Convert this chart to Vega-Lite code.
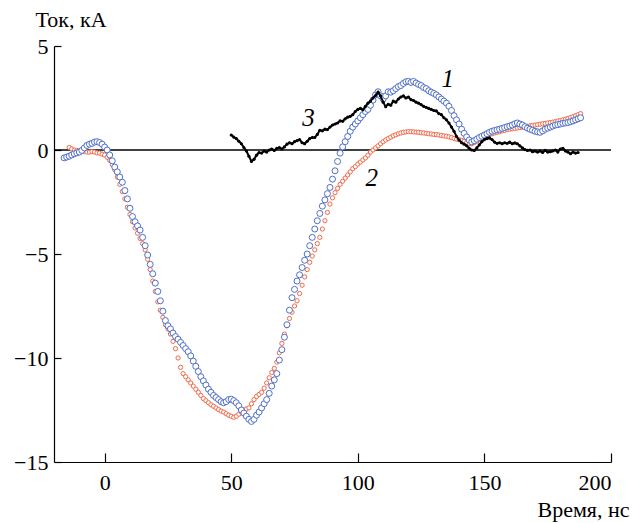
{
  "$schema": "https://vega.github.io/schema/vega-lite/v6.json",
  "width": 557,
  "height": 416,
  "autosize": {"type": "none"},
  "padding": {"left": 54, "top": 46, "right": 22, "bottom": 61},
  "background": "white",
  "config": {
    "view": {"stroke": null},
    "font": "Liberation Serif, DejaVu Serif, serif",
    "axis": {
      "grid": false,
      "domainColor": "black",
      "domainWidth": 1.2,
      "tickColor": "black",
      "tickWidth": 1.2,
      "labelFont": "Liberation Serif, DejaVu Serif, serif",
      "labelFontSize": 22,
      "labelColor": "black",
      "titleFont": "Liberation Serif, DejaVu Serif, serif",
      "titleFontSize": 22,
      "titleFontWeight": "normal",
      "titleColor": "black"
    }
  },
  "datasets": {
    "zero": [{"t": -20, "v": 0}, {"t": 200, "v": 0}],
    "blue": [
      {"t":-16,"v":-0.38},{"t":-15,"v":-0.34},{"t":-14,"v":-0.3},{"t":-13,"v":-0.24},{"t":-12,"v":-0.18},{"t":-11,"v":-0.14},{"t":-10,"v":-0.1},{"t":-9,"v":-0.02},{"t":-8,"v":0.1},{"t":-7,"v":0.22},{"t":-6,"v":0.28},{"t":-5,"v":0.32},{"t":-4,"v":0.38},{"t":-3,"v":0.4},{"t":-2,"v":0.36},{"t":-1,"v":0.28},
      {"t":0,"v":0.14},{"t":1,"v":0.0},{"t":2,"v":-0.24},{"t":3,"v":-0.52},{"t":4,"v":-0.82},{"t":5,"v":-1.05},{"t":6,"v":-1.3},{"t":7,"v":-1.55},{"t":8,"v":-1.95},{"t":9,"v":-2.35},
      {"t":10,"v":-2.8},{"t":11,"v":-3.2},{"t":12,"v":-3.45},{"t":13,"v":-3.65},{"t":14,"v":-3.85},{"t":15,"v":-4.2},{"t":16,"v":-4.6},{"t":17,"v":-5.05},{"t":18,"v":-5.5},{"t":19,"v":-5.95},
      {"t":20,"v":-6.4},{"t":21,"v":-6.8},{"t":22,"v":-7.25},{"t":23,"v":-7.75},{"t":24,"v":-8.2},{"t":25,"v":-8.45},{"t":26,"v":-8.6},{"t":27,"v":-8.8},{"t":28,"v":-8.97},{"t":29,"v":-9.1},
      {"t":30,"v":-9.25},{"t":31,"v":-9.4},{"t":32,"v":-9.55},{"t":33,"v":-9.7},{"t":34,"v":-9.9},{"t":35,"v":-10.15},{"t":36,"v":-10.4},{"t":37,"v":-10.65},{"t":38,"v":-10.9},{"t":39,"v":-11.1},
      {"t":40,"v":-11.3},{"t":41,"v":-11.5},{"t":42,"v":-11.65},{"t":43,"v":-11.8},{"t":44,"v":-11.9},{"t":45,"v":-12.0},{"t":46,"v":-12.1},{"t":47,"v":-12.15},{"t":48,"v":-12.1},{"t":49,"v":-12.0},
      {"t":50,"v":-11.98},{"t":51,"v":-12.05},{"t":52,"v":-12.15},{"t":53,"v":-12.3},{"t":54,"v":-12.5},{"t":55,"v":-12.65},{"t":56,"v":-12.8},{"t":57,"v":-12.95},{"t":58,"v":-13.05},{"t":59,"v":-12.95},
      {"t":60,"v":-12.75},{"t":61,"v":-12.6},{"t":62,"v":-12.4},{"t":63,"v":-12.2},{"t":64,"v":-12.0},{"t":65,"v":-11.7},{"t":66,"v":-11.35},{"t":67,"v":-11.05},{"t":68,"v":-10.75},{"t":69,"v":-10.1},
      {"t":70,"v":-9.6},{"t":71,"v":-9.0},{"t":72,"v":-8.4},{"t":73,"v":-7.7},{"t":74,"v":-7.1},{"t":75,"v":-6.7},{"t":76,"v":-6.3},{"t":77,"v":-6.0},{"t":78,"v":-5.65},{"t":79,"v":-5.3},
      {"t":80,"v":-5.0},{"t":81,"v":-4.6},{"t":82,"v":-4.2},{"t":83,"v":-3.8},{"t":84,"v":-3.4},{"t":85,"v":-3.05},{"t":86,"v":-2.7},{"t":87,"v":-2.4},{"t":88,"v":-2.1},{"t":89,"v":-1.8},
      {"t":90,"v":-1.4},{"t":91,"v":-1.0},{"t":92,"v":-0.55},{"t":93,"v":-0.15},{"t":94,"v":0.15},{"t":95,"v":0.4},{"t":96,"v":0.65},{"t":97,"v":0.9},{"t":98,"v":1.1},{"t":99,"v":1.25},
      {"t":100,"v":1.4},{"t":101,"v":1.55},{"t":102,"v":1.7},{"t":103,"v":1.85},{"t":104,"v":1.95},{"t":105,"v":2.15},{"t":106,"v":2.4},{"t":107,"v":2.65},{"t":108,"v":2.8},{"t":109,"v":2.6},
      {"t":110,"v":2.45},{"t":111,"v":2.6},{"t":112,"v":2.8},{"t":113,"v":2.78},{"t":114,"v":2.85},{"t":115,"v":2.95},{"t":116,"v":3.05},{"t":117,"v":3.1},{"t":118,"v":3.2},{"t":119,"v":3.28},
      {"t":120,"v":3.3},{"t":121,"v":3.25},{"t":122,"v":3.3},{"t":123,"v":3.22},{"t":124,"v":3.15},{"t":125,"v":3.1},{"t":126,"v":3.0},{"t":127,"v":2.95},{"t":128,"v":2.85},{"t":129,"v":2.78},
      {"t":130,"v":2.72},{"t":131,"v":2.65},{"t":132,"v":2.55},{"t":133,"v":2.45},{"t":134,"v":2.35},{"t":135,"v":2.25},{"t":136,"v":2.1},{"t":137,"v":1.9},{"t":138,"v":1.65},{"t":139,"v":1.45},
      {"t":140,"v":1.25},{"t":141,"v":1.0},{"t":142,"v":0.8},{"t":143,"v":0.63},{"t":144,"v":0.48},{"t":145,"v":0.39},{"t":146,"v":0.45},{"t":147,"v":0.52},{"t":148,"v":0.6},{"t":149,"v":0.66},
      {"t":150,"v":0.72},{"t":151,"v":0.78},{"t":152,"v":0.85},{"t":153,"v":0.9},{"t":154,"v":0.94},{"t":155,"v":0.97},{"t":156,"v":1.0},{"t":157,"v":1.04},{"t":158,"v":1.08},{"t":159,"v":1.12},
      {"t":160,"v":1.15},{"t":161,"v":1.2},{"t":162,"v":1.26},{"t":163,"v":1.3},{"t":164,"v":1.25},{"t":165,"v":1.2},{"t":166,"v":1.12},{"t":167,"v":1.05},{"t":168,"v":1.0},{"t":169,"v":0.95},
      {"t":170,"v":0.9},{"t":171,"v":0.87},{"t":172,"v":0.85},{"t":173,"v":0.92},{"t":174,"v":1.0},{"t":175,"v":1.05},{"t":176,"v":1.1},{"t":177,"v":1.15},{"t":178,"v":1.2},{"t":179,"v":1.22},
      {"t":180,"v":1.25},{"t":181,"v":1.28},{"t":182,"v":1.3},{"t":183,"v":1.32},{"t":184,"v":1.36},{"t":185,"v":1.4},{"t":186,"v":1.45},{"t":187,"v":1.5},{"t":188,"v":1.55}
    ],
    "orange": [
      {"t":-14,"v":0.12},{"t":-13,"v":0.05},{"t":-12,"v":0.0},{"t":-11,"v":-0.02},{"t":-10,"v":-0.05},{"t":-9,"v":-0.06},{"t":-8,"v":-0.08},{"t":-7,"v":-0.1},{"t":-6,"v":-0.1},{"t":-5,"v":-0.08},{"t":-4,"v":-0.1},{"t":-3,"v":-0.14},{"t":-2,"v":-0.15},{"t":-1,"v":-0.2},
      {"t":0,"v":-0.24},{"t":1,"v":-0.35},{"t":2,"v":-0.5},{"t":3,"v":-0.7},{"t":4,"v":-0.95},{"t":5,"v":-1.3},{"t":6,"v":-1.65},{"t":7,"v":-2.0},{"t":8,"v":-2.35},{"t":9,"v":-2.75},
      {"t":10,"v":-3.1},{"t":11,"v":-3.45},{"t":12,"v":-3.75},{"t":13,"v":-4.0},{"t":14,"v":-4.25},{"t":15,"v":-4.5},{"t":16,"v":-4.8},{"t":17,"v":-5.25},{"t":18,"v":-5.75},{"t":19,"v":-6.3},
      {"t":20,"v":-6.8},{"t":21,"v":-7.3},{"t":22,"v":-7.7},{"t":23,"v":-8.05},{"t":24,"v":-8.4},{"t":25,"v":-8.6},{"t":26,"v":-8.85},{"t":27,"v":-9.2},{"t":28,"v":-9.55},{"t":29,"v":-10.0},
      {"t":30,"v":-10.45},{"t":31,"v":-10.75},{"t":32,"v":-10.9},{"t":33,"v":-11.05},{"t":34,"v":-11.2},{"t":35,"v":-11.35},{"t":36,"v":-11.5},{"t":37,"v":-11.65},{"t":38,"v":-11.8},{"t":39,"v":-11.95},
      {"t":40,"v":-12.05},{"t":41,"v":-12.15},{"t":42,"v":-12.25},{"t":43,"v":-12.32},{"t":44,"v":-12.4},{"t":45,"v":-12.48},{"t":46,"v":-12.55},{"t":47,"v":-12.6},{"t":48,"v":-12.68},{"t":49,"v":-12.75},
      {"t":50,"v":-12.8},{"t":51,"v":-12.85},{"t":52,"v":-12.8},{"t":53,"v":-12.7},{"t":54,"v":-12.6},{"t":55,"v":-12.5},{"t":56,"v":-12.45},{"t":57,"v":-12.4},{"t":58,"v":-12.2},{"t":59,"v":-12.0},
      {"t":60,"v":-11.85},{"t":61,"v":-11.75},{"t":62,"v":-11.65},{"t":63,"v":-11.45},{"t":64,"v":-11.2},{"t":65,"v":-10.95},{"t":66,"v":-10.7},{"t":67,"v":-10.5},{"t":68,"v":-10.2},{"t":69,"v":-9.75},
      {"t":70,"v":-9.3},{"t":71,"v":-8.85},{"t":72,"v":-8.45},{"t":73,"v":-8.1},{"t":74,"v":-7.8},{"t":75,"v":-7.5},{"t":76,"v":-7.25},{"t":77,"v":-6.9},{"t":78,"v":-6.5},{"t":79,"v":-6.1},
      {"t":80,"v":-5.75},{"t":81,"v":-5.4},{"t":82,"v":-5.1},{"t":83,"v":-4.8},{"t":84,"v":-4.5},{"t":85,"v":-4.2},{"t":86,"v":-3.8},{"t":87,"v":-3.4},{"t":88,"v":-3.0},{"t":89,"v":-2.6},
      {"t":90,"v":-2.3},{"t":91,"v":-2.05},{"t":92,"v":-1.85},{"t":93,"v":-1.65},{"t":94,"v":-1.5},{"t":95,"v":-1.35},{"t":96,"v":-1.2},{"t":97,"v":-1.05},{"t":98,"v":-0.9},{"t":99,"v":-0.8},
      {"t":100,"v":-0.68},{"t":101,"v":-0.58},{"t":102,"v":-0.48},{"t":103,"v":-0.38},{"t":104,"v":-0.25},{"t":105,"v":-0.1},{"t":106,"v":0.0},{"t":107,"v":0.1},{"t":108,"v":0.2},{"t":109,"v":0.3},
      {"t":110,"v":0.4},{"t":111,"v":0.48},{"t":112,"v":0.55},{"t":113,"v":0.62},{"t":114,"v":0.68},{"t":115,"v":0.73},{"t":116,"v":0.78},{"t":117,"v":0.82},{"t":118,"v":0.85},{"t":119,"v":0.87},
      {"t":120,"v":0.88},{"t":121,"v":0.88},{"t":122,"v":0.87},{"t":123,"v":0.86},{"t":124,"v":0.85},{"t":125,"v":0.83},{"t":126,"v":0.82},{"t":127,"v":0.8},{"t":128,"v":0.78},{"t":129,"v":0.77},
      {"t":130,"v":0.75},{"t":131,"v":0.74},{"t":132,"v":0.72},{"t":133,"v":0.7},{"t":134,"v":0.68},{"t":135,"v":0.66},{"t":136,"v":0.63},{"t":137,"v":0.6},{"t":138,"v":0.56},{"t":139,"v":0.52},
      {"t":140,"v":0.5},{"t":141,"v":0.46},{"t":142,"v":0.42},{"t":143,"v":0.36},{"t":144,"v":0.3},{"t":145,"v":0.3},{"t":146,"v":0.36},{"t":147,"v":0.42},{"t":148,"v":0.5},{"t":149,"v":0.58},
      {"t":150,"v":0.65},{"t":151,"v":0.7},{"t":152,"v":0.74},{"t":153,"v":0.78},{"t":154,"v":0.82},{"t":155,"v":0.85},{"t":156,"v":0.88},{"t":157,"v":0.92},{"t":158,"v":0.95},{"t":159,"v":0.98},
      {"t":160,"v":1.0},{"t":161,"v":1.02},{"t":162,"v":1.04},{"t":163,"v":1.06},{"t":164,"v":1.08},{"t":165,"v":1.1},{"t":166,"v":1.12},{"t":167,"v":1.14},{"t":168,"v":1.16},{"t":169,"v":1.18},
      {"t":170,"v":1.2},{"t":171,"v":1.22},{"t":172,"v":1.24},{"t":173,"v":1.26},{"t":174,"v":1.28},{"t":175,"v":1.3},{"t":176,"v":1.32},{"t":177,"v":1.34},{"t":178,"v":1.36},{"t":179,"v":1.39},
      {"t":180,"v":1.42},{"t":181,"v":1.45},{"t":182,"v":1.48},{"t":183,"v":1.52},{"t":184,"v":1.56},{"t":185,"v":1.6},{"t":186,"v":1.65},{"t":187,"v":1.7},{"t":188,"v":1.75}
    ],
    "black": [
      {"t":50,"v":0.72},{"t":51,"v":0.62},{"t":52,"v":0.55},{"t":53,"v":0.42},{"t":54,"v":0.3},{"t":55,"v":0.12},{"t":56,"v":-0.05},{"t":57,"v":-0.3},{"t":58,"v":-0.55},{"t":59,"v":-0.45},
      {"t":60,"v":-0.25},{"t":61,"v":-0.12},{"t":62,"v":-0.15},{"t":63,"v":-0.05},{"t":64,"v":-0.1},{"t":65,"v":0.0},{"t":66,"v":0.05},{"t":67,"v":-0.02},{"t":68,"v":0.08},{"t":69,"v":0.12},
      {"t":70,"v":0.05},{"t":71,"v":0.15},{"t":72,"v":0.28},{"t":73,"v":0.35},{"t":74,"v":0.3},{"t":75,"v":0.4},{"t":76,"v":0.45},{"t":77,"v":0.5},{"t":78,"v":0.35},{"t":79,"v":0.3},
      {"t":80,"v":0.42},{"t":81,"v":0.55},{"t":82,"v":0.6},{"t":83,"v":0.6},{"t":84,"v":0.75},{"t":85,"v":0.95},{"t":86,"v":0.92},{"t":87,"v":1.0},{"t":88,"v":0.98},{"t":89,"v":1.1},
      {"t":90,"v":1.2},{"t":91,"v":1.25},{"t":92,"v":1.3},{"t":93,"v":1.4},{"t":94,"v":1.38},{"t":95,"v":1.5},{"t":96,"v":1.58},{"t":97,"v":1.62},{"t":98,"v":1.7},{"t":99,"v":1.85},
      {"t":100,"v":1.95},{"t":101,"v":2.0},{"t":102,"v":1.93},{"t":103,"v":2.1},{"t":104,"v":2.25},{"t":105,"v":2.35},{"t":106,"v":2.5},{"t":107,"v":2.62},{"t":108,"v":2.78},{"t":109,"v":2.6},
      {"t":110,"v":2.3},{"t":111,"v":2.08},{"t":112,"v":2.2},{"t":113,"v":2.15},{"t":114,"v":2.35},{"t":115,"v":2.3},{"t":116,"v":2.45},{"t":117,"v":2.55},{"t":118,"v":2.6},{"t":119,"v":2.5},
      {"t":120,"v":2.55},{"t":121,"v":2.42},{"t":122,"v":2.38},{"t":123,"v":2.3},{"t":124,"v":2.25},{"t":125,"v":2.18},{"t":126,"v":2.1},{"t":127,"v":2.05},{"t":128,"v":2.0},{"t":129,"v":1.95},
      {"t":130,"v":1.9},{"t":131,"v":1.88},{"t":132,"v":1.75},{"t":133,"v":1.7},{"t":134,"v":1.55},{"t":135,"v":1.45},{"t":136,"v":1.3},{"t":137,"v":1.1},{"t":138,"v":0.9},{"t":139,"v":0.65},
      {"t":140,"v":0.48},{"t":141,"v":0.35},{"t":142,"v":0.28},{"t":143,"v":0.2},{"t":144,"v":0.08},{"t":145,"v":0.0},{"t":146,"v":-0.02},{"t":147,"v":0.1},{"t":148,"v":0.25},{"t":149,"v":0.4},
      {"t":150,"v":0.5},{"t":151,"v":0.55},{"t":152,"v":0.58},{"t":153,"v":0.5},{"t":154,"v":0.38},{"t":155,"v":0.32},{"t":156,"v":0.35},{"t":157,"v":0.3},{"t":158,"v":0.35},{"t":159,"v":0.32},
      {"t":160,"v":0.38},{"t":161,"v":0.3},{"t":162,"v":0.34},{"t":163,"v":0.3},{"t":164,"v":0.2},{"t":165,"v":0.1},{"t":166,"v":0.02},{"t":167,"v":-0.02},{"t":168,"v":0.0},{"t":169,"v":-0.08},
      {"t":170,"v":-0.05},{"t":171,"v":-0.1},{"t":172,"v":-0.05},{"t":173,"v":-0.12},{"t":174,"v":-0.02},{"t":175,"v":-0.1},{"t":176,"v":-0.08},{"t":177,"v":-0.05},{"t":178,"v":0.0},{"t":179,"v":-0.1},
      {"t":180,"v":0.05},{"t":181,"v":0.08},{"t":182,"v":-0.05},{"t":183,"v":-0.1},{"t":184,"v":-0.18},{"t":185,"v":-0.1},{"t":186,"v":-0.15},{"t":187,"v":-0.12}
    ],
    "labels": [
      {"t":135.5,"v":3.4,"label":"1"},
      {"t":105.5,"v":-1.35,"label":"2"},
      {"t":80.5,"v":1.55,"label":"3"}
    ]
  },
  "encoding": {
    "x": {
      "field": "t",
      "type": "quantitative",
      "scale": {"domain": [-20, 200], "nice": false, "zero": false},
      "axis": {
        "values": [0, 50, 100, 150, 200],
        "tickSize": -9,
        "labelPadding": 19,
        "title": "Время, нс",
        "titleAnchor": "end",
        "titleAlign": "right",
        "titleBaseline": "alphabetic",
        "titleX": 575,
        "titleY": 54
      }
    },
    "y": {
      "field": "v",
      "type": "quantitative",
      "scale": {"domain": [-15, 5], "nice": false, "zero": false},
      "axis": {
        "values": [-15, -10, -5, 0, 5],
        "tickSize": -7,
        "labelPadding": 13,
        "title": "Ток, кА",
        "titleAngle": 0,
        "titleAlign": "left",
        "titleBaseline": "alphabetic",
        "titleX": -19,
        "titleY": -20
      }
    }
  },
  "layer": [
    {
      "data": {"name": "zero"},
      "mark": {"type": "line", "color": "black", "strokeWidth": 1.5}
    },
    {
      "data": {"name": "orange"},
      "mark": {"type": "point", "shape": "circle", "fill": "white", "stroke": "#f06a4a", "strokeWidth": 1, "size": 18, "opacity": 1}
    },
    {
      "data": {"name": "blue"},
      "mark": {"type": "point", "shape": "circle", "fill": "white", "stroke": "#4f6fc8", "strokeWidth": 1, "size": 36, "opacity": 1}
    },
    {
      "data": {"name": "black"},
      "mark": {"type": "line", "color": "black", "strokeWidth": 2, "point": {"filled": true, "size": 10, "color": "black", "opacity": 1}}
    },
    {
      "data": {"name": "labels"},
      "mark": {"type": "text", "font": "Liberation Serif, DejaVu Serif, serif", "fontStyle": "italic", "fontSize": 25, "color": "black"},
      "encoding": {
        "text": {"field": "label"}
      }
    }
  ]
}
